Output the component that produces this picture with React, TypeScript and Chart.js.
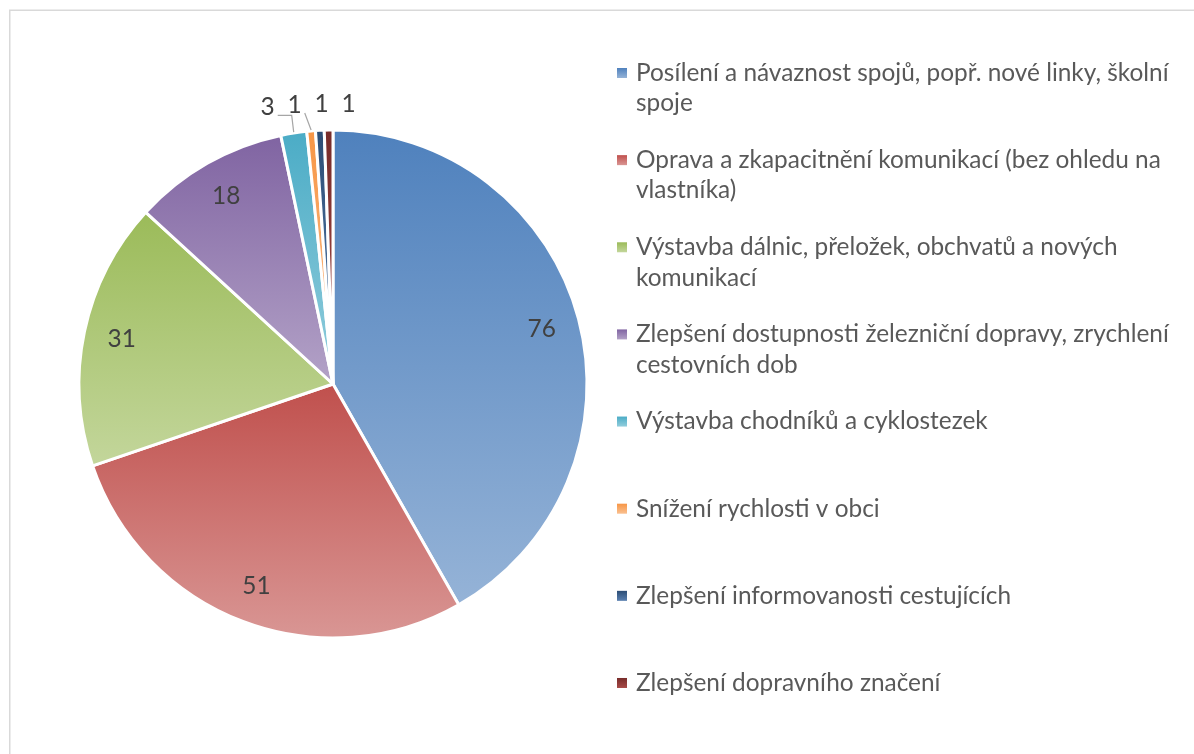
import React, { useEffect, useRef } from "react";
import { Chart, ArcElement, PieController } from "chart.js";

Chart.register(ArcElement, PieController);

// ---- data ----
const categories: string[] = [
  "Posílení a návaznost spojů, popř. nové linky, školní\nspoje",
  "Oprava a zkapacitnění komunikací (bez ohledu na\nvlastníka)",
  "Výstavba dálnic, přeložek, obchvatů a nových\nkomunikací",
  "Zlepšení dostupnosti železniční dopravy, zrychlení\ncestovních dob",
  "Výstavba chodníků a cyklostezek",
  "Snížení rychlosti v obci",
  "Zlepšení informovanosti cestujících",
  "Zlepšení dopravního značení",
];
const values: number[] = [76, 51, 31, 18, 3, 1, 1, 1];

// ---- styles ----
const baseColors = ["#4F81BD", "#C0504D", "#9BBB59", "#8064A2", "#4BACC6", "#F79646", "#2C4D75", "#772C2A"];
const lightColors = ["#95B3D7", "#D99694", "#C3D69B", "#B3A2C7", "#92CDDC", "#FAC090", "#5A80B0", "#A84A47"];
const FONT = "Lato, 'Noto Sans', sans-serif";
const TEXT = "#595959";
const LABEL = "#404040";

const total = values.reduce((a, b) => a + b, 0);

function sliceGradient(c: any) {
  const chart = c.chart;
  const i = c.dataIndex;
  const area = chart.chartArea;
  if (i === undefined || !area) return baseColors[i ?? 0];
  const meta = chart.getDatasetMeta(0);
  const r = (meta.controller as any).outerRadius || 0;
  const cx = (area.left + area.right) / 2;
  const cy = (area.top + area.bottom) / 2;
  let cum = 0;
  for (let k = 0; k < i; k++) cum += values[k];
  const a0 = -Math.PI / 2 + (2 * Math.PI * cum) / total;
  const a1 = a0 + (2 * Math.PI * values[i]) / total;
  const ys = [cy, cy + Math.sin(a0) * r, cy + Math.sin(a1) * r];
  const within = (a: number) => {
    for (let t = -2; t <= 2; t++) {
      const aa = a + t * 2 * Math.PI;
      if (aa >= a0 && aa <= a1) return true;
    }
    return false;
  };
  if (within(-Math.PI / 2)) ys.push(cy - r);
  if (within(Math.PI / 2)) ys.push(cy + r);
  const y0 = Math.min(...ys);
  const y1 = Math.max(...ys);
  void cx;
  const g = chart.ctx.createLinearGradient(0, y0, 0, Math.max(y1, y0 + 1));
  g.addColorStop(0, baseColors[i]);
  g.addColorStop(1, lightColors[i]);
  return g;
}

const labelsPlugin = {
  id: "sliceLabels",
  afterDatasetsDraw(chart: any) {
    const ctx = chart.ctx;
    const meta = chart.getDatasetMeta(0);
    ctx.save();
    ctx.font = `24.4px ${FONT}`;
    ctx.fillStyle = LABEL;
    ctx.textAlign = "center";
    ctx.textBaseline = "middle";
    const outside: any[] = [];
    meta.data.forEach((arc: any, i: number) => {
      const p = arc.getProps(["x", "y", "startAngle", "endAngle", "outerRadius"], true);
      const mid = (p.startAngle + p.endAngle) / 2;
      const R = p.outerRadius;
      if (values[i] / total > 0.05) {
        ctx.fillText(String(values[i]), p.x + Math.cos(mid) * R * 0.85, p.y + Math.sin(mid) * R * 0.85);
      } else {
        outside.push({
          i,
          ax: p.x + Math.cos(mid) * R,
          ay: p.y + Math.sin(mid) * R,
          lx: p.x + Math.cos(mid) * (R + 28),
          ly: p.y + Math.sin(mid) * (R + 28),
        });
      }
    });
    outside.sort((a, b) => a.lx - b.lx);
    const n = outside.length;
    const mean = outside.reduce((s, o) => s + o.lx, 0) / Math.max(n, 1) - 3;
    const gap = 27;
    outside.forEach((o, k) => {
      const lx = mean + (k - (n - 1) / 2) * gap;
      const ly = o.ly + 2;
      const txt = String(values[o.i]);
      const hw = ctx.measureText(txt).width / 2;
      ctx.fillStyle = LABEL;
      ctx.fillText(txt, lx, ly);
      const dx = o.ax - lx;
      if (dx > 4) {
        ctx.strokeStyle = "#A6A6A6";
        ctx.lineWidth = 1.2;
        ctx.beginPath();
        const sx = lx + hw + 3;
        const sy = ly + 8;
        ctx.moveTo(sx, sy);
        if (o.ax - sx > 8) {
          ctx.lineTo(o.ax - 2, sy);
          ctx.lineTo(o.ax, o.ay - 1);
        } else {
          ctx.lineTo(o.ax, o.ay - 1);
        }
        ctx.stroke();
      }
    });
    ctx.restore();
  },
};

const legendPlugin = {
  id: "wrappedLegend",
  afterDraw(chart: any) {
    const ctx = chart.ctx;
    ctx.save();
    // frame
    ctx.strokeStyle = "#D9D9D9";
    ctx.lineWidth = 1.5;
    ctx.strokeRect(9.75, 10.25, 1400, 1000);
    // legend
    ctx.font = `24.4px ${FONT}`;
    ctx.textAlign = "left";
    ctx.textBaseline = "middle";
    const x0 = 617;
    const top = 73;
    const step = 87.14;
    const lineH = 30.5;
    categories.forEach((cat, i) => {
      const y = top + i * step;
      const g = ctx.createLinearGradient(0, y - 5, 0, y + 5);
      g.addColorStop(0, baseColors[i]);
      g.addColorStop(1, lightColors[i]);
      ctx.fillStyle = g;
      ctx.fillRect(x0, y - 5, 10, 10);
      ctx.fillStyle = TEXT;
      cat.split("\n").forEach((line, j) => {
        ctx.fillText(line, x0 + 19, y + j * lineH);
      });
    });
    ctx.restore();
  },
};

export default function App() {
  const ref = useRef<HTMLCanvasElement | null>(null);
  useEffect(() => {
    document.body.style.margin = "0";
    const canvas = ref.current!;
    const chart = new Chart(canvas, {
      type: "pie",
      data: {
        labels: categories,
        datasets: [
          {
            data: values,
            backgroundColor: sliceGradient as any,
            borderColor: "#FFFFFF",
            borderWidth: 3,
          },
        ],
      },
      options: {
        responsive: false,
        animation: false,
        devicePixelRatio: 1,
        radius: 254,
        layout: { padding: { left: 0, right: 528, top: 130, bottom: 116 } },
        plugins: { legend: { display: false }, tooltip: { enabled: false } },
        events: [],
      } as any,
      plugins: [labelsPlugin, legendPlugin],
    });
    return () => chart.destroy();
  }, []);
  return (
    <canvas
      ref={ref}
      width={1194}
      height={754}
      style={{ display: "block", width: 1194, height: 754, background: "#FFFFFF" }}
    />
  );
}
